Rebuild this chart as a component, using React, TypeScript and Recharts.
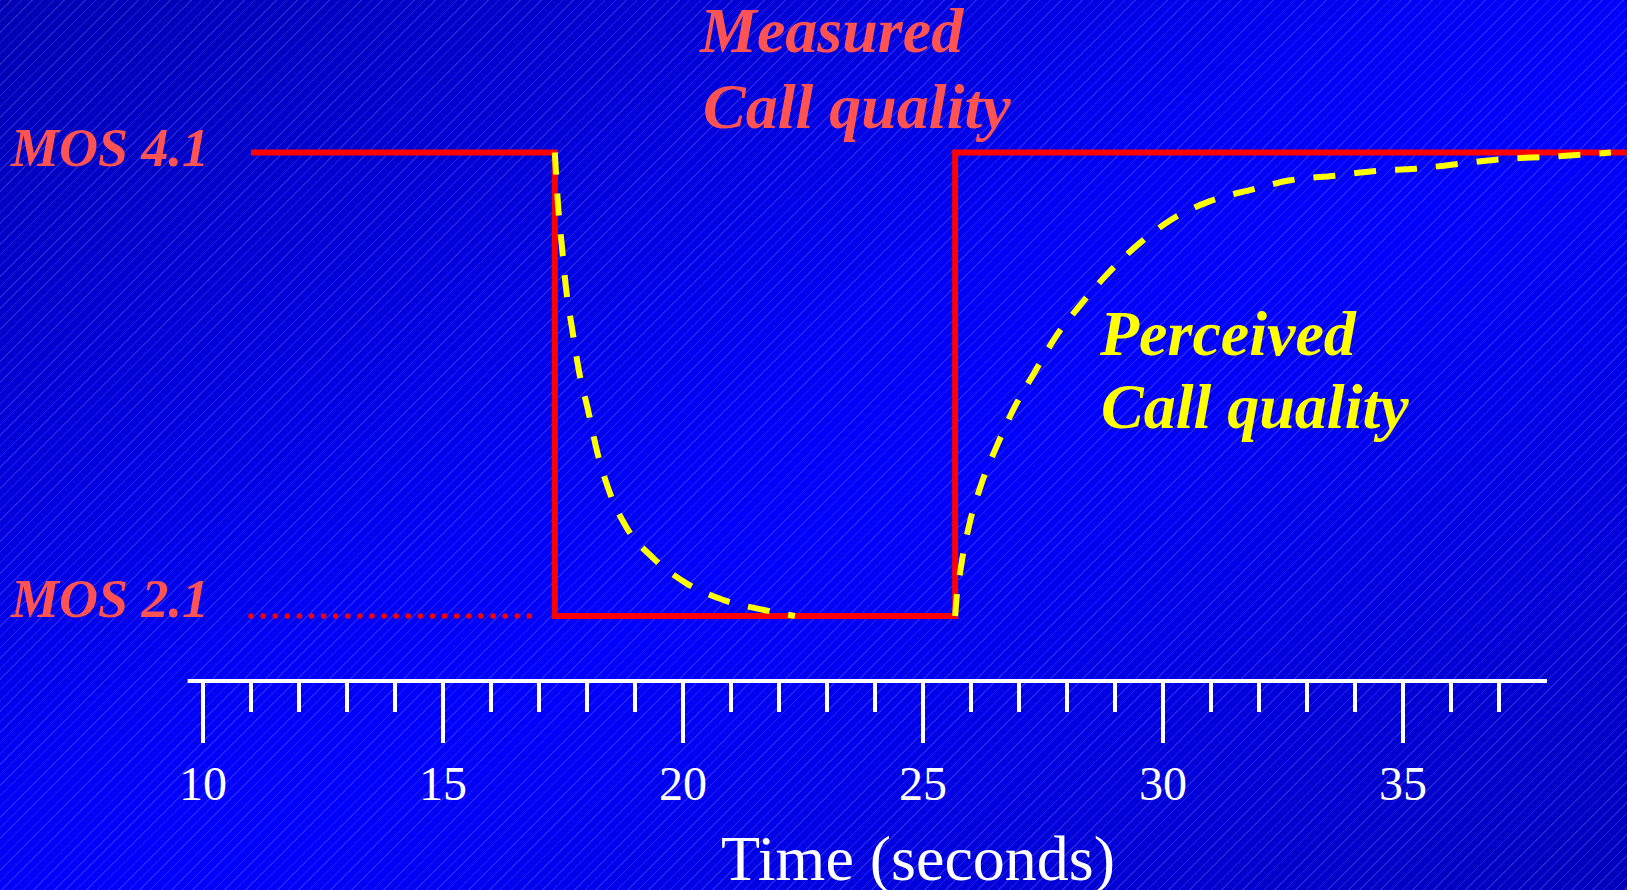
import React from 'react';
import { ComposedChart, Line, XAxis, YAxis, ReferenceLine, Customized } from 'recharts';

// measured call quality (red step)
const measuredTime = [11.0, 17.33, 17.33, 25.67, 25.67, 39.67];
const measuredMos = [4.1, 4.1, 2.1, 2.1, 4.1, 4.1];

// dotted lead-in at MOS 2.1
const guideTime = [11.0, 16.81];
const guideMos = [2.1, 2.1];

// perceived call quality, falling after the drop
const dropTime = [17.33, 17.4, 17.48, 17.56, 17.69, 17.83, 18.02, 18.21, 18.46, 18.83, 19.38, 20.08, 20.83, 21.71, 22.33];
const dropMos = [4.1, 3.865, 3.69, 3.52, 3.34, 3.16, 2.99, 2.81, 2.64, 2.48, 2.35, 2.24, 2.17, 2.125, 2.1];

// perceived call quality, recovering
const recoveryTime = [25.67, 25.69, 25.79, 25.96, 26.2, 26.53, 26.88, 27.32, 27.75, 28.31, 28.86, 29.52, 30.17, 30.98, 31.85, 32.65, 33.58, 34.42, 35.27, 36.13, 36.98, 37.85, 38.71, 39.33];
const recoveryMos = [2.1, 2.155, 2.31, 2.49, 2.66, 2.83, 2.99, 3.15, 3.3, 3.45, 3.58, 3.71, 3.81, 3.89, 3.94, 3.98, 4.0, 4.02, 4.03, 4.05, 4.07, 4.08, 4.09, 4.1];

const timeTicks = [10, 11, 12, 13, 14, 15, 16, 17, 18, 19, 20, 21, 22, 23, 24, 25, 26, 27, 28, 29, 30, 31, 32, 33, 34, 35, 36, 37];
const axisSpan = [9.68, 38];

const X_DOMAIN = [5.771, 39.667];
const Y_DOMAIN = [1.8196, 4.758];

const toRows = (xs: number[], ys: number[]) => xs.map((x, i) => ({ t: x, mos: ys[i] }));

const measuredData = toRows(measuredTime, measuredMos);
const guideData = toRows(guideTime, guideMos);
const dropData = toRows(dropTime, dropMos);
const recoveryData = toRows(recoveryTime, recoveryMos);

const SERIF = "'Liberation Serif', 'Times New Roman', serif";
const SALMON = '#ff5252';

const TimeTick = (props: any) => {
    const { x, y, payload } = props;
    const major = payload.value % 5 === 0;
    return (
        <g>
            <line x1={x} x2={x} y1={y} y2={y + (major ? 62 : 31)} stroke="#ffffff" strokeWidth={4} />
            {major && (
                <text x={x} y={y + 119} textAnchor="middle" fill="#ffffff" fontFamily={SERIF} fontSize={48}>
                    {payload.value}
                </text>
            )}
        </g>
    );
};

const Annotations = () => (
    <g fontFamily={SERIF}>
        <g fill={SALMON} fontWeight="bold" fontStyle="italic">
            <text x={11} y={166} fontSize={54}>MOS 4.1</text>
            <text x={11} y={617} fontSize={54}>MOS 2.1</text>
            <text x={700} y={52} fontSize={64}>Measured</text>
            <text x={703} y={128} fontSize={64}>Call quality</text>
        </g>
        <g fill="#ffff00" fontWeight="bold" fontStyle="italic">
            <text x={1100} y={355} fontSize={64}>Perceived</text>
            <text x={1101} y={428} fontSize={64}>Call quality</text>
        </g>
        <text x={918} y={880} textAnchor="middle" fill="#ffffff" fontSize={64}>
            Time (seconds)
        </text>
    </g>
);

export default function App() {
    return (
        <div
            style={{
                position: 'absolute',
                top: 0,
                left: 0,
                width: 1627,
                height: 890,
                background:
                    'repeating-linear-gradient(135deg, rgba(255,255,255,0.15) 0px, rgba(255,255,255,0.15) 1px, rgba(255,255,255,0) 1px, rgba(255,255,255,0) 7.5px), linear-gradient(to bottom right, #0000b4 0%, #0000f6 45%, #0000ff 55%, #0000bc 100%)',
            }}
        >
            <ComposedChart width={1627} height={890} margin={{ top: 0, right: 0, bottom: 0, left: 0 }}>
                <XAxis
                    dataKey="t"
                    type="number"
                    domain={X_DOMAIN}
                    allowDataOverflow
                    ticks={timeTicks}
                    interval={0}
                    height={209}
                    axisLine={false}
                    tickLine={false}
                    tickSize={0}
                    tickMargin={0}
                    tick={<TimeTick />}
                />
                <YAxis type="number" domain={Y_DOMAIN} allowDataOverflow hide />
                <ReferenceLine
                    segment={[
                        { x: axisSpan[0], y: Y_DOMAIN[0] },
                        { x: axisSpan[1], y: Y_DOMAIN[0] },
                    ]}
                    stroke="#ffffff"
                    strokeWidth={4}
                    ifOverflow="visible"
                />
                <Line
                    data={guideData}
                    dataKey="mos"
                    type="linear"
                    stroke="#ff0000"
                    strokeWidth={5.5}
                    strokeDasharray="0 12.1"
                    strokeLinecap="round"
                    dot={false}
                    activeDot={false}
                    isAnimationActive={false}
                />
                <Line
                    data={measuredData}
                    dataKey="mos"
                    type="linear"
                    stroke="#ff0000"
                    strokeWidth={6}
                    dot={false}
                    activeDot={false}
                    isAnimationActive={false}
                />
                <Line
                    data={dropData}
                    dataKey="mos"
                    type="monotone"
                    stroke="#ffff00"
                    strokeWidth={6}
                    strokeDasharray="22 19"
                    dot={false}
                    activeDot={false}
                    isAnimationActive={false}
                />
                <Line
                    data={recoveryData}
                    dataKey="mos"
                    type="monotone"
                    stroke="#ffff00"
                    strokeWidth={6}
                    strokeDasharray="22 19"
                    dot={false}
                    activeDot={false}
                    isAnimationActive={false}
                />
                <Customized component={Annotations} />
            </ComposedChart>
        </div>
    );
}
